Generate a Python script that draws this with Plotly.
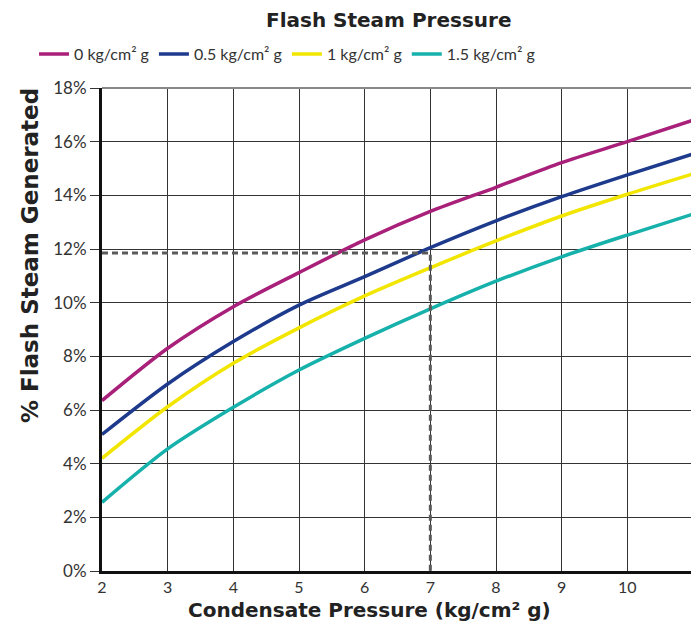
import plotly.graph_objects as go

condensate_pressure = [2, 3, 4, 5, 6, 7, 8, 9, 10, 11]
flash_0 = [6.35, 8.3, 9.85, 11.12, 12.34, 13.4, 14.3, 15.22, 16.0, 16.8]
flash_05 = [5.09, 6.97, 8.55, 9.91, 10.97, 12.05, 13.05, 13.95, 14.76, 15.54]
flash_1 = [4.2, 6.12, 7.74, 9.06, 10.25, 11.3, 12.3, 13.23, 14.04, 14.8]
flash_15 = [2.56, 4.55, 6.1, 7.49, 8.67, 9.77, 10.8, 11.71, 12.52, 13.3]
series_names = ["0 kg/cm² g", "0.5 kg/cm² g", "1 kg/cm² g", "1.5 kg/cm² g"]
series_colors = ["#A8207A", "#1E3A8C", "#F2E600", "#17B1AC"]

ref_x = 7
ref_y = 11.85
x_start = 2
y_zero = 0

fig = go.Figure()
for name, vals, col in zip(series_names, [flash_0, flash_05, flash_1, flash_15], series_colors):
    fig.add_trace(go.Scatter(x=condensate_pressure, y=vals, mode="lines", name=name,
                             line=dict(color=col, width=3.5, shape="spline", smoothing=0.8)))

fig.add_trace(go.Scatter(x=[x_start, ref_x, ref_x], y=[ref_y, ref_y, y_zero], mode="lines",
                         showlegend=False, line=dict(color="#5a5a5a", width=3, dash="6px,4px")))

font_fam = "Lato, 'DejaVu Sans', sans-serif"
bold_fam = "'DejaVu Sans', sans-serif"
fig.update_layout(
    width=691, height=618,
    margin=dict(l=94, r=6, t=80, b=55, autoexpand=False),
    paper_bgcolor="white", plot_bgcolor="white",
    font=dict(family=font_fam, color="#333", size=16),
    title=dict(text="<b>Flash Steam Pressure</b>", x=0.551, xanchor="center", y=0.9806, yanchor="middle",
               font=dict(size=20, color="#222", family=bold_fam)),
    legend=dict(orientation="h", x=-0.115, xanchor="left", y=1.070, yanchor="middle",
                font=dict(size=16, color="#333"), itemwidth=30,
                bgcolor="rgba(0,0,0,0)"),
    showlegend=True,
    annotations=[
        dict(text="<b>Condensate Pressure (kg/cm² g)</b>", xref="paper", yref="paper",
             x=0.453, y=-0.0807, xanchor="center", yanchor="middle", showarrow=False,
             font=dict(size=20, color="#222", family=bold_fam)),
        dict(text="<b>% Flash Steam Generated</b>", xref="paper", yref="paper",
             x=-0.1218, y=0.652, xanchor="center", yanchor="middle", showarrow=False, textangle=-90,
             font=dict(size=23, color="#222", family=bold_fam)),
    ],
)
fig.update_xaxes(range=[2, 11], dtick=1, tick0=2, showgrid=True, gridcolor="#333", gridwidth=1,
                 showline=True, linecolor="#111", linewidth=3, ticks="", zeroline=False,
                 tickfont=dict(size=16, color="#333"))
fig.update_yaxes(range=[0, 18], dtick=2, ticksuffix="%", showgrid=True, gridcolor="#333", gridwidth=1,
                 showline=True, linecolor="#111", linewidth=3, ticks="outside", ticklen=9, tickcolor="#333",
                 zeroline=False, tickfont=dict(size=17, color="#333"))
# top and right frame lines
fig.add_shape(type="line", xref="paper", yref="paper", x0=0, x1=1, y0=1, y1=1, line=dict(color="#888", width=2))
fig.add_shape(type="line", xref="paper", yref="paper", x0=1, x1=1, y0=0, y1=1, line=dict(color="#888", width=2))

fig.write_html("out.html")
